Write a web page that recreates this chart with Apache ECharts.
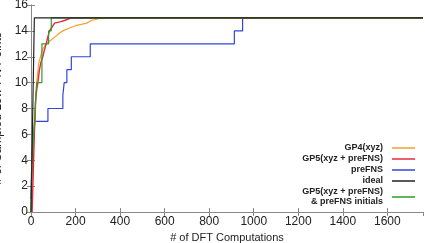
<!DOCTYPE html>
<html>
<head>
<meta charset="utf-8">
<script src="https://cdn.jsdelivr.net/npm/echarts@6/dist/echarts.min.js"></script>
<style>
  html, body { margin: 0; padding: 0; background: #fff; }
  #main { width: 425px; height: 243px; }
</style>
</head>
<body>
<div id="main"></div>
<script>
var myChart = echarts.init(document.getElementById("main"));

// [DFT computations, sampled low-FN points]
var gp4 = [[0,0],[5,3],[10,5],[15,7],[20,8.5],[25,10],[35,11.5],[50,12.5],[68,13],[90,13.3],[106,13.5],[125,13.8],[143,14],[170,14.2],[200,14.4],[226,14.5],[250,14.6],[271,14.8],[295,14.9],[316,15],[1760,15]];
var gp5 = [[5,0],[10,3],[15,6],[20,8.5],[26,9.5],[31,10],[38,11],[45,11.6],[53,12],[60,12.5],[68,13],[75,13.5],[83,14],[95,14.3],[106,14.6],[130,14.7],[150,14.8],[181,15],[1760,15]];
var preFNS = [[0,1],[3,3],[6,5],[10,6],[16,7],[76,8],[143,9],[149,10],[161,11],[181,12],[266,13],[913,14],[950,15],[1760,15]];
var ideal = [[0,0],[15,15],[1760,15]];
var gp5Init = [[0,0],[2,3],[5,4],[8,5],[12,6],[18,7],[22,9],[26,10],[49,13],[79,14],[91,15],[1760,15]];

var seriesNames = ['GP4(xyz)', 'GP5(xyz + preFNS)', 'preFNS', 'ideal', 'GP5(xyz + preFNS)\n& preFNS initials'];
var seriesColors = ['#f5a030', '#e8283c', '#3344dd', '#222222', '#2e9e2e'];
var xTicks = { min: 0, max: 1760, interval: 200 };
var yTicks = { min: 0, max: 16, interval: 2 };

var axisGray = '#888';
var plain = function (v) { return String(v); };
var option = {
  animation: false,
  textStyle: { fontFamily: 'Liberation Sans, Arial, sans-serif' },
  grid: { left: 31, right: 2, top: 5, bottom: 31, outerBoundsMode: 'none' },
  legend: {
    data: seriesNames,
    orient: 'vertical',
    right: 5,
    top: 138,
    align: 'right',
    icon: 'rect',
    itemWidth: 23,
    itemHeight: 1.5,
    itemGap: 1,
    textStyle: { fontSize: 9, fontWeight: 'bold', color: '#222', lineHeight: 10, padding: [0, 4, 0, 0] }
  },
  xAxis: [{
    type: 'value',
    min: xTicks.min, max: xTicks.max, interval: xTicks.interval,
    name: '# of DFT Computations',
    nameLocation: 'middle',
    nameGap: 19,
    nameTextStyle: { fontSize: 11, color: '#222' },
    axisLine: { lineStyle: { color: axisGray } },
    axisTick: { inside: true, length: 4, lineStyle: { color: axisGray } },
    axisLabel: { fontSize: 12, color: '#222', margin: 4, showMaxLabel: false, formatter: plain },
    splitLine: { show: false }
  }, {
    type: 'value', position: 'top',
    min: xTicks.min, max: xTicks.max, interval: xTicks.interval,
    axisLine: { show: true, lineStyle: { color: axisGray } },
    axisTick: { inside: true, length: 4, lineStyle: { color: axisGray } },
    axisLabel: { show: false },
    splitLine: { show: false }
  }],
  yAxis: [{
    type: 'value',
    min: yTicks.min, max: yTicks.max, interval: yTicks.interval,
    name: '# of Sampled Low-FN Points',
    nameLocation: 'middle',
    nameGap: 20,
    nameTextStyle: { fontSize: 12, color: '#222' },
    axisLine: { show: true, lineStyle: { color: axisGray } },
    axisTick: { show: true, inside: true, length: 4, lineStyle: { color: axisGray } },
    axisLabel: { fontSize: 12, color: '#222', margin: 3, formatter: plain },
    splitLine: { show: false }
  }, {
    type: 'value', position: 'right',
    min: yTicks.min, max: yTicks.max, interval: yTicks.interval,
    axisLine: { show: true, lineStyle: { color: axisGray } },
    axisTick: { show: true, inside: true, length: 4, lineStyle: { color: axisGray } },
    axisLabel: { show: false },
    splitLine: { show: false }
  }],
  series: [
    { name: seriesNames[0], type: 'line', data: gp4, showSymbol: false, color: seriesColors[0], lineStyle: { width: 1.2 }, z: 2 },
    { name: seriesNames[1], type: 'line', data: gp5, showSymbol: false, color: seriesColors[1], lineStyle: { width: 1.4 }, z: 3 },
    { name: seriesNames[2], type: 'line', step: 'end', data: preFNS, showSymbol: false, color: seriesColors[2], lineStyle: { width: 1.2 }, z: 1 },
    { name: seriesNames[3], type: 'line', data: ideal, showSymbol: false, color: seriesColors[3], lineStyle: { width: 1.2 }, z: 5 },
    { name: seriesNames[4], type: 'line', step: 'end', data: gp5Init, showSymbol: false, color: seriesColors[4], lineStyle: { width: 1.2 }, z: 4 }
  ]
};
myChart.setOption(option);
</script>
</body>
</html>
